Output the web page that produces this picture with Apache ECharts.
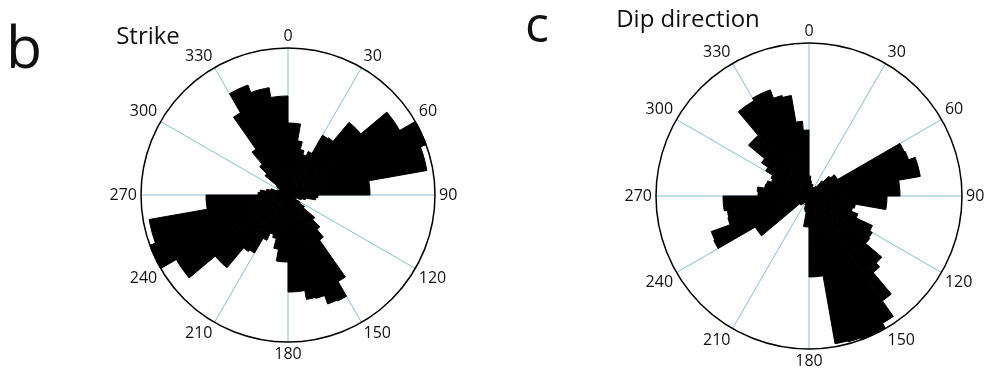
<!DOCTYPE html>
<html><head><meta charset="utf-8">
<script src="https://cdn.jsdelivr.net/npm/echarts@6/dist/echarts.min.js"></script>
<style>html,body{margin:0;padding:0;background:#fff}#c{width:992px;height:375px}</style>
</head><body><div id="c"></div>
<script>
// angle tick labels (degrees, clockwise from north)
const angleTicks = [0, 30, 60, 90, 120, 150, 180, 210, 240, 270, 300, 330];
// 5-degree bins: category names "0-5", "5-10", ... "355-360"
const binCategories = Array.from({length: 72}, (_, i) => (i * 5) + '-' + (i * 5 + 5));

// Strike rose: bin lengths (left panel, scale max 147)
const strikeValues = [
  72, 72, 55, 47, 43, 48, 69, 70, 95, 95, 129, 129,
  147, 147, 141, 141, 82, 82, 30, 28, 18, 14, 8, 8,
  14, 20, 35, 45, 55, 100, 117, 116, 107, 106, 97, 97,
  67, 67, 55, 45, 42, 50, 67, 69, 95, 95, 129, 129,
  147, 147, 141, 141, 82, 82, 30, 28, 22, 18, 12, 10,
  10, 14, 30, 40, 56, 95, 117, 117, 109, 109, 99, 99
];
const strikeMax = 147;

// Dip direction rose: bin lengths (right panel, scale max 153)
const dipValues = [
  20, 15, 12, 12, 10, 8, 10, 12, 20, 28, 33, 33,
  105, 106, 113, 113, 91, 91, 78, 78, 47, 45, 52, 70,
  73, 74, 95, 100, 128, 147, 153, 153, 151, 150, 81, 81,
  31, 31, 16, 14, 10, 8, 8, 10, 12, 12, 62, 62,
  105, 104, 84, 83, 86, 86, 51, 52, 45, 44, 40, 42,
  50, 58, 79, 79, 110, 110, 113, 113, 104, 102, 75, 66
];
const dipMax = 153;

const panelTitles = ['Strike', 'Dip direction'];
const panelLetters = ['b', 'c'];

const FONT = '"Open Sans", "Noto Sans", sans-serif';
const chart = echarts.init(document.getElementById('c'), null, {renderer: 'canvas'});

function labelAxis(polarIndex) {
  return {
    polarIndex, type: 'value', min: 0, max: 360, interval: 30,
    startAngle: 90, clockwise: true,
    axisLine: {show: true, lineStyle: {color: '#000', width: 1.5}},
    axisTick: {show: false},
    axisLabel: {
      margin: 4, fontSize: 16, color: '#111', fontFamily: FONT,
      formatter: v => (angleTicks.indexOf(v) >= 0 ? String(v) : '')
    },
    splitLine: {show: true, lineStyle: {color: '#86bfd3', width: 1}},
    z: 0
  };
}
function binAxis(polarIndex) {
  return {
    polarIndex, type: 'category', data: binCategories,
    startAngle: 90, clockwise: true, show: false
  };
}

const option = {
  animation: false,
  backgroundColor: '#fff',
  polar: [
    {center: [288, 195], radius: 147},
    {center: [288, 195], radius: 147},
    {center: [809, 196], radius: 153},
    {center: [809, 196], radius: 153}
  ],
  angleAxis: [labelAxis(0), binAxis(1), labelAxis(2), binAxis(3)],
  radiusAxis: [
    {polarIndex: 0, min: 0, max: strikeMax, show: false},
    {polarIndex: 1, min: 0, max: strikeMax, show: false},
    {polarIndex: 2, min: 0, max: dipMax, show: false},
    {polarIndex: 3, min: 0, max: dipMax, show: false}
  ],
  series: [
    {
      type: 'bar', coordinateSystem: 'polar', polarIndex: 1,
      data: strikeValues, barCategoryGap: '0%', z: 3,
      itemStyle: {color: '#000', borderColor: '#000', borderWidth: 1}
    },
    {
      type: 'bar', coordinateSystem: 'polar', polarIndex: 3,
      data: dipValues, barCategoryGap: '0%', z: 3,
      itemStyle: {color: '#000', borderColor: '#000', borderWidth: 1}
    }
  ],
  graphic: [
    {type: 'text', x: 24, y: 51, style: {text: panelLetters[0], font: '59px ' + FONT, fill: '#111', align: 'center', verticalAlign: 'middle'}},
    {type: 'text', x: 148, y: 37, style: {text: panelTitles[0], font: '24px ' + FONT, fill: '#111', align: 'center', verticalAlign: 'middle'}},
    {type: 'text', x: 537, y: 28, style: {text: panelLetters[1], font: '50px ' + FONT, fill: '#111', align: 'center', verticalAlign: 'middle'}},
    {type: 'text', x: 688, y: 20, style: {text: panelTitles[1], font: '24px ' + FONT, fill: '#111', align: 'center', verticalAlign: 'middle'}}
  ]
};
chart.setOption(option);
</script>
</body></html>
